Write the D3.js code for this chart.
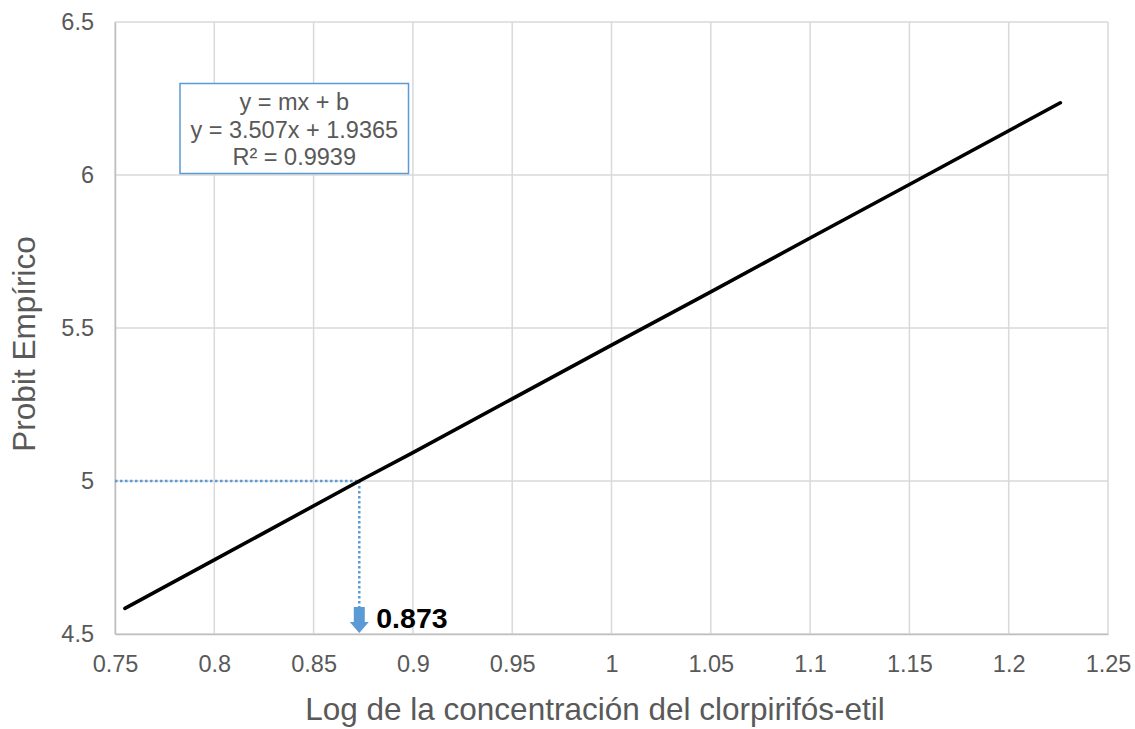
<!DOCTYPE html>
<html>
<head>
<meta charset="utf-8">
<script src="https://cdn.jsdelivr.net/npm/d3@7"></script>
<style>
  html, body { margin: 0; padding: 0; background: #fff; }
  svg { display: block; font-family: "Liberation Sans", Arial, sans-serif; }
</style>
</head>
<body>
<svg id="chart" width="1135" height="729"></svg>
<script>
// Log concentration vs. empirical probit (fitted trend)
const logConc = [0.755, 0.80, 0.873, 0.90, 1.00, 1.05, 1.10, 1.15, 1.226];
const probit  = [4.584, 4.742, 5.000, 5.093, 5.444, 5.618, 5.794, 5.969, 6.236];

const xTicks = [0.75, 0.8, 0.85, 0.9, 0.95, 1, 1.05, 1.1, 1.15, 1.2, 1.25];
const yTicks = [4.5, 5, 5.5, 6, 6.5];

const equationLines = ["y = mx + b", "y = 3.507x + 1.9365", "R² = 0.9939"];
const targetProbit = 5;
const lc50Log = 0.873;

const xTitle = "Log de la concentración del clorpirifós-etil";
const yTitle = "Probit Empírico";

const svg = d3.select("#chart");
const margin = { left: 115, right: 1108, top: 22, bottom: 634 };

const x = d3.scaleLinear().domain([0.75, 1.25]).range([margin.left, margin.right]);
const y = d3.scaleLinear().domain([4.5, 6.5]).range([margin.bottom, margin.top]);

const gridColor = "#d9d9d9";
const textColor = "#595959";
const font = "Liberation Sans, Arial, sans-serif";

// gridlines
svg.append("g").selectAll("line").data(xTicks).join("line")
  .attr("x1", d => x(d)).attr("x2", d => x(d))
  .attr("y1", margin.top).attr("y2", margin.bottom)
  .attr("stroke", gridColor).attr("stroke-width", 1.5);
svg.append("g").selectAll("line").data(yTicks).join("line")
  .attr("x1", margin.left).attr("x2", margin.right)
  .attr("y1", d => y(d)).attr("y2", d => y(d))
  .attr("stroke", gridColor).attr("stroke-width", 1.5);

// axes
const xAxis = d3.axisBottom(x).tickValues(xTicks).tickSize(0).tickPadding(21)
  .tickFormat(d => String(+d.toFixed(2)));
const gx = svg.append("g").attr("transform", `translate(0,${margin.bottom})`).call(xAxis);
gx.select(".domain").attr("stroke", "#bfbfbf").attr("stroke-width", 1.5);
gx.selectAll("text").attr("fill", textColor).attr("font-size", 23.5)
  .attr("font-family", font);

const yAxis = d3.axisLeft(y).tickValues(yTicks).tickSize(0).tickPadding(21)
  .tickFormat(d => String(d));
const gy = svg.append("g").attr("transform", `translate(${margin.left},0)`).call(yAxis);
gy.select(".domain").attr("stroke", "#bfbfbf").attr("stroke-width", 1.5);
gy.selectAll("text").attr("fill", textColor).attr("font-size", 23.5)
  .attr("font-family", font);

// axis titles
svg.append("text")
  .attr("x", 595).attr("y", 720)
  .attr("text-anchor", "middle").attr("fill", textColor).attr("font-size", 31.5)
  .text(xTitle);
svg.append("text")
  .attr("transform", `translate(35,${(margin.top + margin.bottom) / 2 + 16}) rotate(-90)`)
  .attr("text-anchor", "middle").attr("fill", textColor).attr("font-size", 31.5)
  .text(yTitle);

// dotted guide lines at probit 5
const guide = "#5b9bd5";
svg.append("line")
  .attr("x1", margin.left).attr("x2", x(lc50Log))
  .attr("y1", y(targetProbit)).attr("y2", y(targetProbit))
  .attr("stroke", guide).attr("stroke-width", 2.5).attr("stroke-dasharray", "2.5,2.5");
svg.append("line")
  .attr("x1", x(lc50Log)).attr("x2", x(lc50Log))
  .attr("y1", y(targetProbit)).attr("y2", margin.bottom - 26)
  .attr("stroke", guide).attr("stroke-width", 2.5).attr("stroke-dasharray", "2.5,2.5");

// block arrow down to the axis
const ax = x(lc50Log), tip = margin.bottom - 1;
const arrow = d3.path();
arrow.moveTo(ax - 5.5, tip - 26);
arrow.lineTo(ax + 5.5, tip - 26);
arrow.lineTo(ax + 5.5, tip - 11);
arrow.lineTo(ax + 9.5, tip - 11);
arrow.lineTo(ax, tip);
arrow.lineTo(ax - 9.5, tip - 11);
arrow.lineTo(ax - 5.5, tip - 11);
arrow.closePath();
svg.append("path").attr("d", arrow.toString()).attr("fill", guide);

svg.append("text")
  .attr("x", ax + 17).attr("y", margin.bottom - 6)
  .attr("font-size", 28.5).attr("font-weight", "bold").attr("fill", "#000")
  .text(String(lc50Log));

// trend line
const line = d3.line().x((d, i) => x(logConc[i])).y(d => y(d));
svg.append("path").datum(probit)
  .attr("d", line)
  .attr("fill", "none").attr("stroke", "#000").attr("stroke-width", 3.6)
  .attr("stroke-linecap", "round").attr("stroke-linejoin", "round");

// equation box
const bx = 180, by = 83.5, bw = 228.5, bh = 90;
svg.append("rect").attr("x", bx).attr("y", by).attr("width", bw).attr("height", bh)
  .attr("fill", "#fff").attr("stroke", guide).attr("stroke-width", 1.5);
svg.append("g").selectAll("text").data(equationLines).join("text")
  .attr("x", bx + bw / 2).attr("y", (d, i) => by + 26.5 + i * 27.5)
  .attr("text-anchor", "middle").attr("fill", textColor).attr("font-size", 23.5)
  .text(d => d);
</script>
</body>
</html>
